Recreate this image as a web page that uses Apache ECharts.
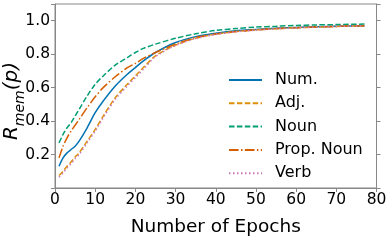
<!DOCTYPE html>
<html><head><meta charset="utf-8">
<script src="https://cdn.jsdelivr.net/npm/echarts@6/dist/echarts.min.js"></script>
<style>html,body{margin:0;padding:0;background:#fff}#c{width:391px;height:242px}</style>
</head><body><div id="c"></div>
<script>
const epochs = [1,2,3,4,5,6,8,10,12,15,18,20,22,25,30,35,40,45,50,55,60,65,70,77];
const numVals  = [0.13,0.18,0.21,0.23,0.25,0.28,0.36,0.45,0.52,0.61,0.68,0.72,0.76,0.81,0.87,0.905,0.925,0.94,0.948,0.955,0.96,0.964,0.967,0.97];
const adjVals  = [0.075,0.10,0.13,0.155,0.185,0.21,0.28,0.35,0.43,0.54,0.62,0.67,0.72,0.79,0.855,0.895,0.92,0.935,0.945,0.952,0.958,0.962,0.966,0.97];
const nounVals = [0.27,0.32,0.36,0.39,0.43,0.47,0.55,0.62,0.67,0.735,0.78,0.81,0.835,0.86,0.895,0.922,0.942,0.953,0.962,0.967,0.972,0.975,0.977,0.98];
const propVals = [0.18,0.25,0.30,0.34,0.375,0.41,0.48,0.545,0.60,0.665,0.72,0.745,0.775,0.81,0.86,0.9,0.92,0.935,0.945,0.953,0.958,0.963,0.966,0.97];
const verbVals = [0.065,0.09,0.12,0.145,0.175,0.2,0.27,0.34,0.42,0.53,0.61,0.66,0.71,0.785,0.852,0.893,0.918,0.934,0.944,0.951,0.957,0.962,0.966,0.97];
const seriesNames = ['Num.','Adj.','Noun','Prop. Noun','Verb'];
const xTicks = [0,10,20,30,40,50,60,70,80];
const yTicks = [0.2,0.4,0.6,0.8,1.0];

const colors = ['#0173b2','#de8f05','#029e73','#d55e00','#cc78bc'];
const types = ['solid',[5.5,2.4],[5.5,2.4],[9.6,2.4,1.5,2.4],[1.5,2.5]];
const vals = [numVals,adjVals,nounVals,propVals,verbVals];
const font = 'DejaVu Sans';

const chart = echarts.init(document.getElementById('c'), null, {renderer:'canvas'});
chart.setOption({
  animation:false,
  grid:{left:55,right:14.5,top:4,bottom:45,show:true,borderColor:'#888',borderWidth:1},
  xAxis:{type:'value',min:0,max:80,interval:10,
    axisLine:{show:true,lineStyle:{color:'#888',width:1}},
    axisTick:{show:true,length:4,lineStyle:{color:'#888'}},
    axisLabel:{color:'#000',fontFamily:font,fontSize:15.5,margin:4,
      formatter:v=>xTicks.includes(v)?String(v):''},
    splitLine:{show:false},
    name:'Number of Epochs',nameLocation:'middle',nameGap:30,
    nameTextStyle:{color:'#000',fontFamily:font,fontSize:18.5}},
  yAxis:[{type:'value',min:0,max:1.1,interval:0.2,
    axisLine:{show:true,lineStyle:{color:'#888',width:1}},
    axisTick:{show:true,length:4,lineStyle:{color:'#888'}},
    axisLabel:{color:'#000',fontFamily:font,fontSize:15.5,margin:5,
      formatter:v=>{const t=yTicks.find(y=>Math.abs(y-v)<1e-6);return t?t.toFixed(1):'';}},
    splitLine:{show:false}},
   {type:'value',min:0,max:1.1,interval:0.2,position:'right',
    axisLine:{show:true,lineStyle:{color:'#888',width:1}},
    axisTick:{show:true,length:4,lineStyle:{color:'#888'}},
    axisLabel:{show:false},splitLine:{show:false}}],
  legend:{orient:'vertical',left:228,top:72,padding:0,itemWidth:33,itemHeight:16,itemGap:7.3,
    itemStyle:{opacity:0},
    textStyle:{color:'#000',fontFamily:font,fontSize:16,padding:[0,0,0,8]},data:seriesNames},
  graphic:[{type:'text',x:12,y:101,rotation:Math.PI/2,
    style:{text:'{a|R}{b|mem}{a|(p)}',align:'center',verticalAlign:'middle',rich:{
      a:{fontFamily:font,fontSize:20,fontStyle:'italic',fill:'#000',verticalAlign:'bottom'},
      b:{fontFamily:font,fontSize:14,fontStyle:'italic',fill:'#000',verticalAlign:'bottom',padding:[0,0,-5,0]}}}}],
  series:vals.map((v,i)=>({name:seriesNames[i],type:'line',showSymbol:false,symbol:'none',
    smooth:0.3,data:epochs.map((e,j)=>[e,v[j]]),
    lineStyle:{color:colors[i],width:1.5,type:types[i]},itemStyle:{color:colors[i]}}))
});
</script></body></html>
